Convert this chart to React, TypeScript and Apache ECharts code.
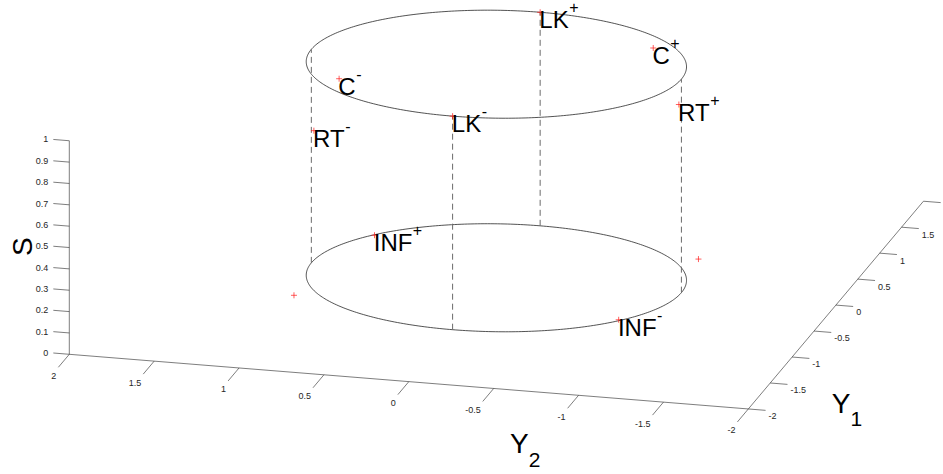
import React, { useEffect, useRef } from 'react';
import * as echarts from 'echarts';

const WIDTH = 943;
const HEIGHT = 474;

// Axis limits and ticks
const Y1_LIM = [-2, 2];
const Y2_LIM = [-2, 2];
const S_LIM = [0, 1];

const sTicks = [0, 0.1, 0.2, 0.3, 0.4, 0.5, 0.6, 0.7, 0.8, 0.9, 1];
const sTickLabels = ['0', '0.1', '0.2', '0.3', '0.4', '0.5', '0.6', '0.7', '0.8', '0.9', '1'];
const y2Ticks = [2, 1.5, 1, 0.5, 0, -0.5, -1, -1.5, -2];
const y2TickLabels = ['2', '1.5', '1', '0.5', '0', '-0.5', '-1', '-1.5', '-2'];
const y1Ticks = [-2, -1.5, -1, -0.5, 0, 0.5, 1, 1.5, 2];
const y1TickLabels = ['-2', '-1.5', '-1', '-0.5', '0', '0.5', '1', '1.5', '2'];

// Cylinder: two rings joined by dashed generators
const ringLevels = [0, 1];
const ringRadiusY1 = 1;
const ringRadiusY2 = 1.09;
const guideY1 = [0, -1, 1, 0];
const guideY2 = [1.09, 0, 0, -1.09];

// States (Y1, Y2, S)
const stateNames = ['LK', 'LK', 'C', 'C', 'RT', 'RT', 'INF', 'INF', '', ''];
const stateSigns = ['+', '-', '+', '-', '+', '-', '+', '-', '', ''];
const stateY1 = [1, -1, 0.52, -0.49, 0, 0, 0.59, -0.58, -0.61, 0.63];
const stateY2 = [0, 0, -0.79, 0.8, -1.075, 1.075, 0.87, -0.87, 1.035, -1.028];
const stateS = [1, 1, 1, 1, 0.88, 0.62, 0, 0, 0, 0];

// Camera (orthographic, MATLAB-like azimuth / elevation)
const DEG = Math.PI / 180;
const VIEW_AZ = 14.6 * DEG;
const VIEW_EL = 18 * DEG;
const BOX_ASPECT = [1, 0.99, 0.32];
const VIEW_SCALE = 701.7;
const ORIGIN_PX = [69.3, 354.3];

const FONT = '"Liberation Sans", Arial, Helvetica, sans-serif';
const AXIS_COLOR = '#262626';
const LABEL_COLOR = '#262626';

function project(y1: number, y2: number, s: number): number[] {
  // Y2 runs reversed: +2 at the left end of the front edge
  const X = ((Y2_LIM[1] - y2) / (Y2_LIM[1] - Y2_LIM[0])) * BOX_ASPECT[0];
  const Y = ((y1 - Y1_LIM[0]) / (Y1_LIM[1] - Y1_LIM[0])) * BOX_ASPECT[1];
  const Z = ((s - S_LIM[0]) / (S_LIM[1] - S_LIM[0])) * BOX_ASPECT[2];
  const ca = Math.cos(VIEW_AZ);
  const sa = Math.sin(VIEW_AZ);
  const ce = Math.cos(VIEW_EL);
  const se = Math.sin(VIEW_EL);
  return [ca * X + sa * Y, -sa * se * X + ca * se * Y + ce * Z];
}

let measureCtx: CanvasRenderingContext2D | null = null;
function textWidth(text: string, size: number): number {
  if (!measureCtx) {
    measureCtx = document.createElement('canvas').getContext('2d');
  }
  if (!measureCtx) return text.length * size * 0.6;
  measureCtx.font = `${size}px ${FONT}`;
  return measureCtx.measureText(text).width;
}

function pt(api: any, y1: number, y2: number, s: number): number[] {
  return api.coord(project(y1, y2, s));
}

type TickAxis = {
  values: number[];
  labels: string[];
  at: (v: number) => number[];
  dir: number[];
  place: (end: number[]) => { x: number; y: number; align: string };
};

function tickSeries(axis: TickAxis) {
  return {
    type: 'custom',
    coordinateSystem: 'cartesian2d',
    silent: true,
    clip: false,
    data: axis.values.map((_, i) => [i, 0]),
    renderItem: (params: any, api: any) => {
      const v = axis.values[params.dataIndex];
      const p = axis.at(v);
      const a = pt(api, p[0], p[1], p[2]);
      const b = pt(api, p[0] + axis.dir[0], p[1] + axis.dir[1], p[2] + axis.dir[2]);
      const lp = axis.place(b);
      const children: any[] = [
        {
          type: 'line',
          shape: { x1: a[0], y1: a[1], x2: b[0], y2: b[1] },
          style: { stroke: AXIS_COLOR, lineWidth: 0.6 },
        },
      ];
      if (lp.x < WIDTH - 2) {
        children.push({
          type: 'text',
          x: lp.x,
          y: lp.y,
          style: {
            text: axis.labels[params.dataIndex],
            fill: LABEL_COLOR,
            fontSize: 9,
            fontFamily: FONT,
            align: lp.align,
            verticalAlign: 'middle',
          },
        });
      }
      return { type: 'group', children };
    },
  };
}

function buildOption() {
  const xMin = -ORIGIN_PX[0] / VIEW_SCALE;
  const xMax = (WIDTH - ORIGIN_PX[0]) / VIEW_SCALE;
  const yMin = -(HEIGHT - ORIGIN_PX[1]) / VIEW_SCALE;
  const yMax = ORIGIN_PX[1] / VIEW_SCALE;

  const ringSeries = {
    type: 'custom',
    coordinateSystem: 'cartesian2d',
    silent: true,
    clip: false,
    data: ringLevels.map((_, i) => [i, 0]),
    renderItem: (params: any, api: any) => {
      const level = ringLevels[params.dataIndex];
      const points: number[][] = [];
      const n = 360;
      for (let k = 0; k <= n; k++) {
        const t = (k / n) * Math.PI * 2;
        points.push(pt(api, ringRadiusY1 * Math.sin(t), ringRadiusY2 * Math.cos(t), level));
      }
      return {
        type: 'polyline',
        shape: { points },
        style: { stroke: '#1a1a1a', lineWidth: 0.75, fill: 'none' },
      };
    },
  };

  const guideSeries = {
    type: 'custom',
    coordinateSystem: 'cartesian2d',
    silent: true,
    clip: false,
    data: guideY1.map((_, i) => [i, 0]),
    renderItem: (params: any, api: any) => {
      const i = params.dataIndex;
      const a = pt(api, guideY1[i], guideY2[i], ringLevels[0]);
      const b = pt(api, guideY1[i], guideY2[i], ringLevels[1]);
      return {
        type: 'line',
        shape: { x1: a[0], y1: a[1], x2: b[0], y2: b[1] },
        style: { stroke: '#6a6a6a', lineWidth: 1, lineDash: [6, 4] },
      };
    },
  };

  const axisLineSeries = {
    type: 'custom',
    coordinateSystem: 'cartesian2d',
    silent: true,
    clip: false,
    data: [[0, 0]],
    renderItem: (_params: any, api: any) => {
      const segs = [
        [pt(api, Y1_LIM[0], Y2_LIM[1], S_LIM[0]), pt(api, Y1_LIM[0], Y2_LIM[1], S_LIM[1])],
        [pt(api, Y1_LIM[0], Y2_LIM[1], S_LIM[0]), pt(api, Y1_LIM[0], Y2_LIM[0], S_LIM[0])],
        [pt(api, Y1_LIM[0], Y2_LIM[0], S_LIM[0]), pt(api, Y1_LIM[1], Y2_LIM[0], S_LIM[0])],
      ];
      return {
        type: 'group',
        children: segs.map((s) => ({
          type: 'line',
          shape: { x1: s[0][0], y1: s[0][1], x2: s[1][0], y2: s[1][1] },
          style: { stroke: AXIS_COLOR, lineWidth: 0.6 },
        })),
      };
    },
  };

  const sAxisTicks = tickSeries({
    values: sTicks,
    labels: sTickLabels,
    at: (v) => [Y1_LIM[0], Y2_LIM[1], v],
    dir: [0, 0.094, 0],
    place: (e) => ({ x: e[0] - 5, y: e[1], align: 'right' }),
  });
  const y2AxisTicks = tickSeries({
    values: y2Ticks,
    labels: y2TickLabels,
    at: (v) => [Y1_LIM[0], v, S_LIM[0]],
    dir: [-0.25, 0, 0],
    place: (e) => ({ x: e[0] - 2, y: e[1] + 8.5, align: 'right' }),
  });
  const y1AxisTicks = tickSeries({
    values: y1Ticks,
    labels: y1TickLabels,
    at: (v) => [v, Y2_LIM[0], S_LIM[0]],
    dir: [0, -0.1016, 0],
    place: (e) => ({ x: e[0] + 3, y: e[1] + 6, align: 'left' }),
  });

  const MAIN_SIZE = 24;
  const SUP_SIZE = 16;
  const stateSeries = {
    type: 'custom',
    coordinateSystem: 'cartesian2d',
    silent: true,
    clip: false,
    data: stateNames.map((_, i) => [i, 0]),
    renderItem: (params: any, api: any) => {
      const i = params.dataIndex;
      const p = pt(api, stateY1[i], stateY2[i], stateS[i]);
      const h = 3;
      const red = '#ff1a1a';
      const children: any[] = [
        { type: 'line', shape: { x1: p[0] - h, y1: p[1], x2: p[0] + h, y2: p[1] }, style: { stroke: red, lineWidth: 0.7 } },
        { type: 'line', shape: { x1: p[0], y1: p[1] - h, x2: p[0], y2: p[1] + h }, style: { stroke: red, lineWidth: 0.7 } },
      ];
      const name = stateNames[i];
      if (name) {
        const capTop = p[1] - 1;
        const x0 = p[0] - 0.8;
        children.push({
          type: 'text',
          x: x0,
          y: capTop + 0.358 * MAIN_SIZE,
          style: { text: name, fill: '#000', fontSize: MAIN_SIZE, fontFamily: FONT, align: 'left', verticalAlign: 'middle' },
        });
        const w = textWidth(name, MAIN_SIZE);
        children.push({
          type: 'text',
          x: x0 + w + 0.5,
          y: capTop - 3.5,
          style: { text: stateSigns[i], fill: '#000', fontSize: SUP_SIZE, fontFamily: FONT, align: 'left', verticalAlign: 'middle' },
        });
      }
      return { type: 'group', children };
    },
  };

  const TITLE_SIZE = 28;
  const SUB_SIZE = 21;
  const yW = textWidth('Y', TITLE_SIZE);
  const graphic = [
    {
      type: 'text',
      x: 22.5,
      y: 246.7,
      rotation: Math.PI / 2,
      style: { text: 'S', fill: '#000', fontSize: TITLE_SIZE, fontFamily: FONT, align: 'center', verticalAlign: 'middle' },
    },
    {
      type: 'text',
      x: 510,
      y: 433.3 + 0.358 * TITLE_SIZE,
      style: { text: 'Y', fill: '#000', fontSize: TITLE_SIZE, fontFamily: FONT, align: 'left', verticalAlign: 'middle' },
    },
    {
      type: 'text',
      x: 510 + yW,
      y: 459.2,
      style: { text: '2', fill: '#000', fontSize: SUB_SIZE, fontFamily: FONT, align: 'left', verticalAlign: 'middle' },
    },
    {
      type: 'text',
      x: 831.7,
      y: 393.3 + 0.358 * TITLE_SIZE,
      style: { text: 'Y', fill: '#000', fontSize: TITLE_SIZE, fontFamily: FONT, align: 'left', verticalAlign: 'middle' },
    },
    {
      type: 'text',
      x: 831.7 + yW,
      y: 418.4,
      style: { text: '1', fill: '#000', fontSize: SUB_SIZE, fontFamily: FONT, align: 'left', verticalAlign: 'middle' },
    },
  ];

  return {
    animation: false,
    backgroundColor: '#ffffff',
    grid: { left: 0, right: 0, top: 0, bottom: 0, containLabel: false },
    xAxis: { type: 'value', min: xMin, max: xMax, show: false, splitLine: { show: false } },
    yAxis: { type: 'value', min: yMin, max: yMax, show: false, splitLine: { show: false } },
    graphic,
    series: [ringSeries, guideSeries, axisLineSeries, sAxisTicks, y2AxisTicks, y1AxisTicks, stateSeries],
  };
}

export default function App() {
  const ref = useRef<HTMLDivElement>(null);
  useEffect(() => {
    document.body.style.margin = '0';
    if (!ref.current) return;
    const chart = echarts.init(ref.current, null, { renderer: 'svg' });
    chart.setOption(buildOption() as any);
    return () => chart.dispose();
  }, []);
  return <div ref={ref} style={{ width: WIDTH, height: HEIGHT }} />;
}
